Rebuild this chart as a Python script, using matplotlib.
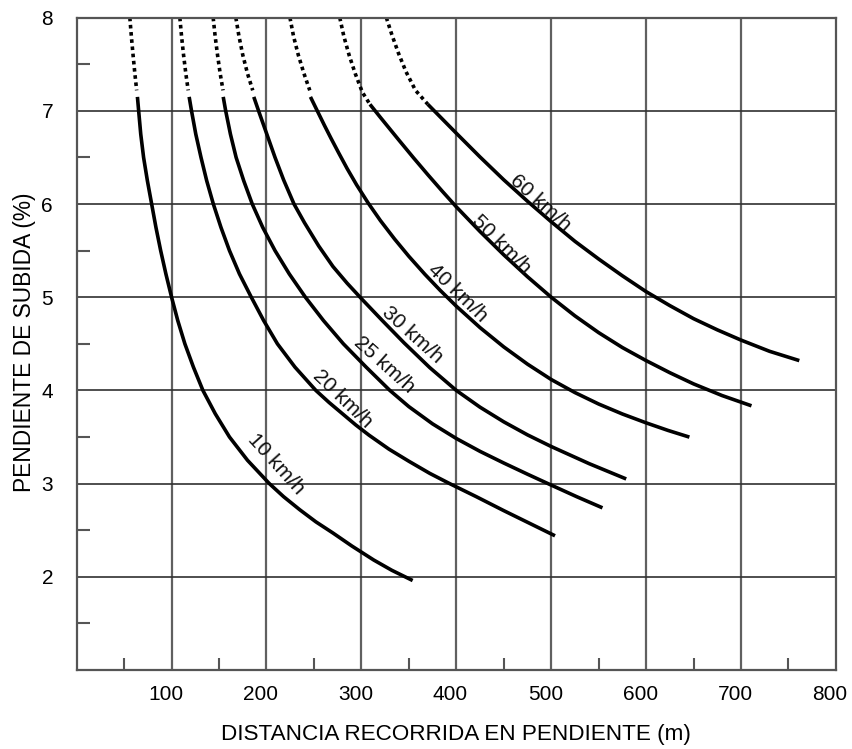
import matplotlib
matplotlib.use("Agg")
import matplotlib.pyplot as plt
from matplotlib.transforms import ScaledTranslation

plt.rcParams['font.family'] = ['Liberation Sans', 'DejaVu Sans']

# velocidades y tramos (distancia m, pendiente %)
speeds = ["10", "20", "25", "30", "40", "50", "60"]

# tramos punteados (parte superior de cada curva)
dotted_x = {
    "10": [56, 57.6, 59.4, 61.3, 63.2],
    "20": [108.7, 110.5, 112.6, 115, 117.5],
    "25": [143.8, 145.9, 148.4, 151.2, 154.2],
    "30": [167.7, 171, 175, 180, 185.5],
    "40": [224.7, 228.5, 233.5, 239.5, 245.6],
    "50": [277.2, 281.5, 287, 293.5, 301, 309],
    "60": [326.3, 332, 339, 347, 357, 370],
}
dotted_y = {
    "10": [8.0, 7.8, 7.6, 7.4, 7.22],
    "20": [8.0, 7.8, 7.6, 7.4, 7.22],
    "25": [8.0, 7.8, 7.6, 7.4, 7.22],
    "30": [8.0, 7.8, 7.6, 7.4, 7.22],
    "40": [8.0, 7.8, 7.6, 7.4, 7.22],
    "50": [8.0, 7.8, 7.6, 7.4, 7.2, 7.07],
    "60": [8.0, 7.82, 7.62, 7.42, 7.22, 7.07],
}

# tramos continuos
solid_x = {
    "10": [64, 65.3, 67.5, 70.5, 74.5, 79, 83.5, 88.5, 94, 100, 106.5, 114, 123,
           133, 146, 161, 180, 203, 218, 235, 252, 270, 290, 313, 332, 354],
    "20": [118.5, 121, 125.5, 131, 137, 144, 152, 161, 171.5, 184, 197, 211.5,
           230, 252, 266, 280, 294, 308, 329, 350, 372, 393, 421, 450, 477, 504],
    "25": [154.4, 157, 162, 168, 176, 185, 196, 209, 224, 241, 260, 281, 305,
           330, 350, 375, 400, 425, 450, 475, 500, 527, 554],
    "30": [186.6, 192, 200, 209, 218, 229, 240, 255, 270, 285, 300, 322, 345,
           372, 400, 425, 450, 475, 500, 540, 579],
    "40": [246.3, 254, 261, 268, 276, 285, 295, 307, 320, 335, 350, 367, 383,
           400, 425, 450, 475, 500, 525, 550, 575, 600, 623, 645.6],
    "50": [309, 320, 330, 340, 355, 370, 385, 400, 425, 450, 475, 500, 525,
           550, 575, 600, 625, 650, 680, 711],
    "60": [370, 385, 400, 425, 450, 475, 500, 525, 550, 575, 600, 625, 650,
           675, 700, 730, 761.4],
}
solid_y = {
    "10": [7.15, 7.0, 6.75, 6.5, 6.25, 6.0, 5.75, 5.5, 5.25, 5.0, 4.75, 4.5, 4.25,
           4.0, 3.75, 3.5, 3.25, 3.0, 2.86, 2.72, 2.59, 2.47, 2.33, 2.18, 2.07, 1.96],
    "20": [7.15, 7.0, 6.75, 6.5, 6.25, 6.0, 5.75, 5.5, 5.25, 5.0, 4.75, 4.5,
           4.25, 4.0, 3.87, 3.75, 3.63, 3.52, 3.37, 3.24, 3.11, 3.0, 2.86, 2.71, 2.575, 2.44],
    "25": [7.15, 7.0, 6.75, 6.5, 6.25, 6.0, 5.75, 5.5, 5.25, 5.0, 4.75, 4.5, 4.25,
           4.0, 3.826, 3.641, 3.484, 3.346, 3.221, 3.101, 2.984, 2.859, 2.74],
    "30": [7.15, 6.99, 6.76, 6.5, 6.26, 6.0, 5.8, 5.55, 5.33, 5.15, 4.985, 4.75, 4.51,
           4.245, 4.0, 3.82, 3.663, 3.523, 3.398, 3.214, 3.05],
    "40": [7.15, 6.99, 6.845, 6.705, 6.55, 6.38, 6.205, 6.013, 5.823, 5.624, 5.439,
           5.245, 5.074, 4.904, 4.674, 4.467, 4.282, 4.117, 3.977, 3.854, 3.747,
           3.652, 3.571, 3.499],
    "50": [7.07, 6.93, 6.805, 6.68, 6.495, 6.315, 6.14, 5.97, 5.705, 5.455, 5.22, 5.0,
           4.8, 4.62, 4.46, 4.32, 4.19, 4.07, 3.945, 3.835],
    "60": [7.07, 6.915, 6.76, 6.505, 6.26, 6.03, 5.81, 5.6, 5.41, 5.23, 5.06, 4.91, 4.77,
           4.65, 4.54, 4.42, 4.32],
}

# posicion (centro) y giro de cada rotulo de velocidad
label_x = [210.5, 279.8, 324.5, 353.5, 401.7, 447.4, 488.5]
label_y = [3.21, 3.907, 4.273, 4.594, 5.05, 5.566, 6.017]
label_rot = [-48, -44, -42, -42, -44, -45, -42]

x_ticks = [100, 200, 300, 400, 500, 600, 700, 800]
y_ticks = [2, 3, 4, 5, 6, 7, 8]

fig = plt.figure(figsize=(8.53, 7.49), dpi=100)
ax = fig.add_axes([0.0899, 0.1055, 0.8901, 0.8709])

for s in speeds:
    ax.plot(dotted_x[s], dotted_y[s], color="black", lw=2.6,
            linestyle=(0, (1, 1)), dash_capstyle="butt")
    ax.plot(solid_x[s], solid_y[s], color="black", lw=2.6,
            solid_capstyle="butt", solid_joinstyle="round")

for s, lx, ly, rot in zip(speeds, label_x, label_y, label_rot):
    ax.text(lx, ly, s + " km/h", rotation=rot, rotation_mode="anchor",
            ha="center", va="center", fontsize=15, color="#111111")

ax.set_xlim(0, 800)
ax.set_ylim(1.0, 8.0)

# rejilla: verticales grises, horizontales oscuras
for xv in x_ticks[:-1]:
    ax.axvline(xv, color="#606060", lw=1.6, zorder=0)
for yv in y_ticks[:-1]:
    ax.axhline(yv, color="#303030", lw=1.2, zorder=0)

ax.set_xticks(x_ticks)
ax.set_yticks(y_ticks)
ax.set_xticks([v - 50 for v in x_ticks], minor=True)
ax.set_yticks([v - 0.5 for v in y_ticks], minor=True)
ax.tick_params(which="major", length=0, labelsize=15, pad=11)
ax.tick_params(axis="y", which="major", pad=17)
ax.tick_params(which="minor", direction="in", length=9, width=1.5, color="#555555")

for lab in ax.get_xticklabels():
    lab.set_transform(lab.get_transform() + ScaledTranslation(-0.06, 0, fig.dpi_scale_trans))

for sp in ax.spines.values():
    sp.set_color("#555555")
    sp.set_linewidth(1.6)

ax.set_xlabel("DISTANCIA RECORRIDA EN PENDIENTE (m)", fontsize=16.2)
ax.set_ylabel("PENDIENTE DE SUBIDA (%)", fontsize=16.4)
ax.xaxis.set_label_coords(0.4995, -0.083)
ax.yaxis.set_label_coords(-0.053, 0.502)

fig.savefig("out.png", dpi=100)
